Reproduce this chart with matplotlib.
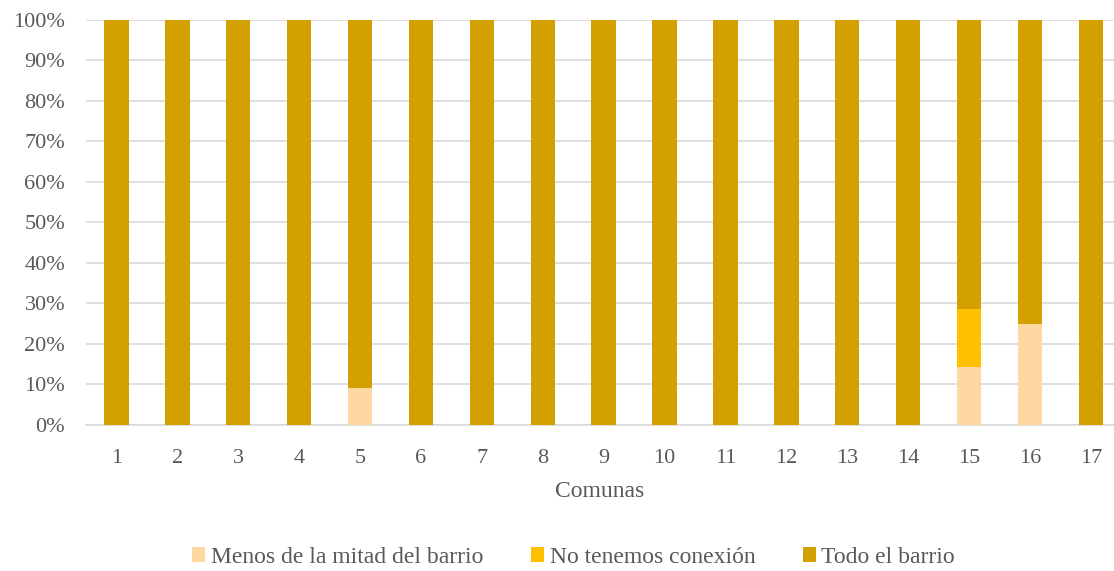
import matplotlib.pyplot as plt
import numpy as np

plt.rcParams['font.family'] = ['Liberation Serif', 'DejaVu Serif']

comunas = [str(i) for i in range(1, 18)]
menos = [0, 0, 0, 0, 9.1, 0, 0, 0, 0, 0, 0, 0, 0, 0, 14.3, 25.0, 0]
sin_conexion = [0, 0, 0, 0, 0, 0, 0, 0, 0, 0, 0, 0, 0, 0, 14.3, 0, 0]
todo = [100 - a - b for a, b in zip(menos, sin_conexion)]

series = [
    ("Menos de la mitad del barrio", menos, "#FFD7A0"),
    ("No tenemos conexión", sin_conexion, "#FFC000"),
    ("Todo el barrio", todo, "#D4A000"),
]

fig = plt.figure(figsize=(11.14, 5.71), dpi=100)
ax = fig.add_axes([0.0772, 0.2557, 0.9228, 0.7093])

x = np.arange(len(comunas))
bottom = np.zeros(len(comunas))
for name, vals, color in series:
    ax.bar(x, vals, 0.4, bottom=bottom, color=color, label=name, zorder=3)
    bottom += np.array(vals)

ax.set_ylim(0, 100)
ax.set_xlim(-0.5, 16.38)
ax.set_yticks(range(0, 101, 10))
ax.set_yticklabels([f"{v}%" for v in range(0, 101, 10)])
ax.set_xticks(x)
ax.set_xticklabels(comunas)
ax.grid(axis='y', color='#D9D9D9', linewidth=1.2, zorder=0)
for s in ['top', 'right', 'left']:
    ax.spines[s].set_visible(False)
ax.spines['bottom'].set_color('#D9D9D9')
ax.spines['bottom'].set_linewidth(1.2)
ax.tick_params(axis='both', length=0, labelsize=16, colors='#595959')
ax.tick_params(axis='x', pad=17)
ax.tick_params(axis='y', pad=15)
ax.set_xlabel("Comunas", fontsize=17, color='#595959', labelpad=10)

fig.legend(loc='lower center', bbox_to_anchor=(0.515, -0.032), ncol=3, frameon=False,
           fontsize=17, labelcolor='#595959', handlelength=0.55, handleheight=0.6,
           handletextpad=0.25, columnspacing=2.0)

fig.savefig("out.png", dpi=100)
